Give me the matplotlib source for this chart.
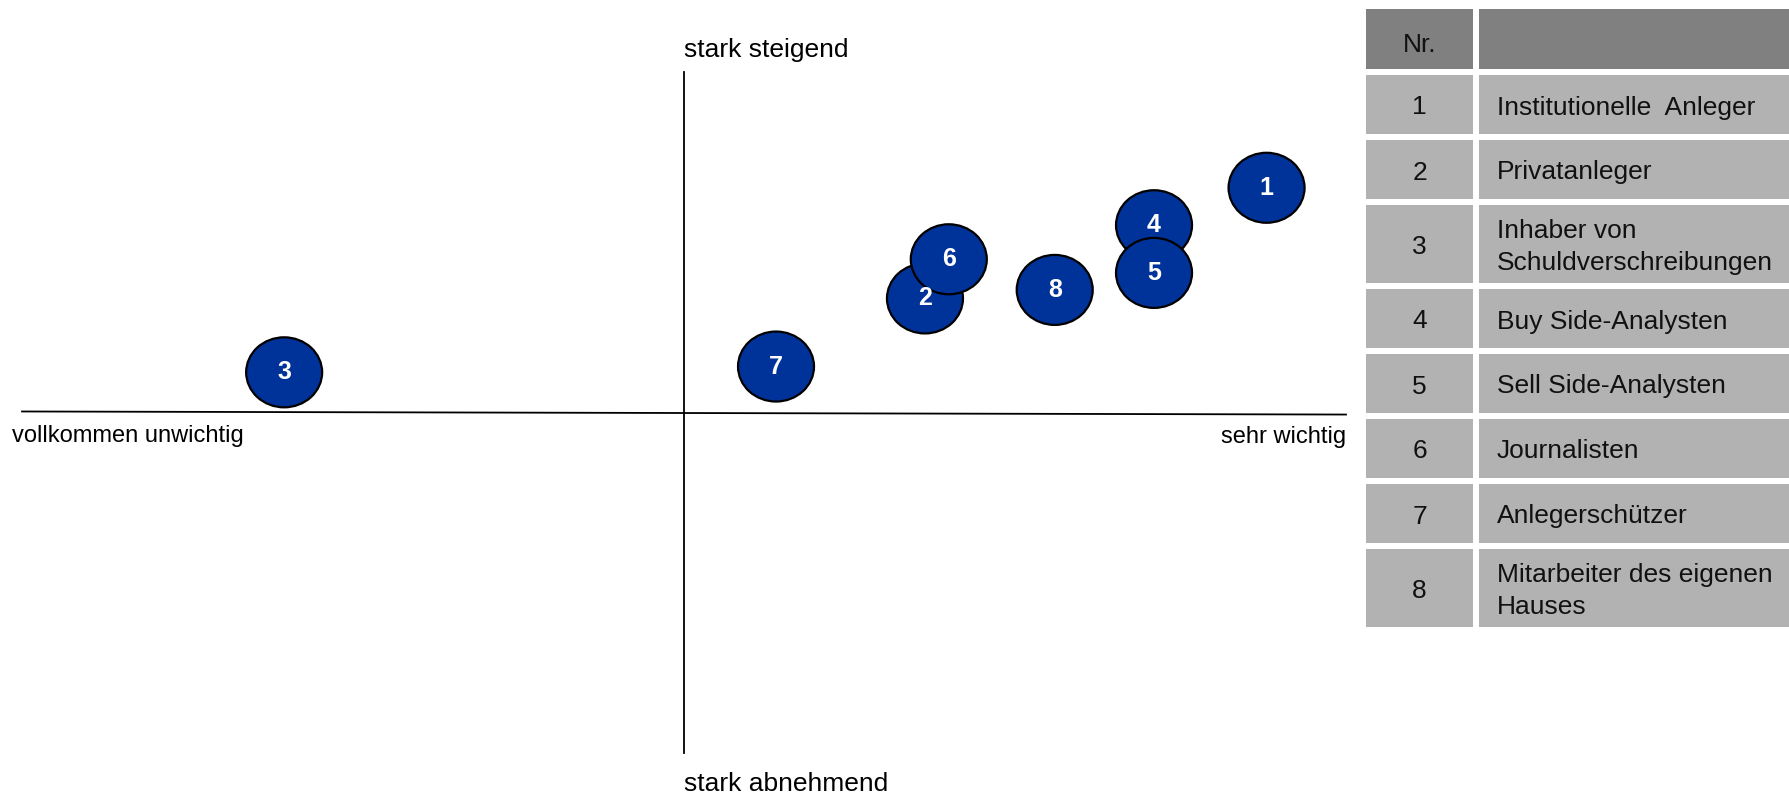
import matplotlib
matplotlib.use("Agg")
import matplotlib.pyplot as plt
from matplotlib.patches import Ellipse, Rectangle

plt.rcParams['font.family'] = ['Liberation Sans', 'DejaVu Sans']

# Daten: Wichtigkeit (x) und Entwicklung (y), Skala -1..1
nr      = [1, 2, 3, 4, 5, 6, 7, 8]
wichtig = [0.88, 0.364, -0.604, 0.71, 0.71, 0.40, 0.139, 0.56]
trend   = [0.66, 0.335, 0.118, 0.55, 0.41, 0.45, 0.135, 0.36]
gruppen = ["Institutionelle  Anleger", "Privatanleger",
           "Inhaber von\nSchuldverschreibungen", "Buy Side-Analysten",
           "Sell Side-Analysten", "Journalisten", "Anlegerschützer",
           "Mitarbeiter des eigenen\nHauses"]

W, H = 1789, 794
fig = plt.figure(figsize=(W / 100, H / 100), dpi=100)

# ── Portfolio-Kreuz ──
x0, x1, y0, y1 = 22, 1346, 72, 753          # pixel extent of the cross
ax = fig.add_axes([x0 / W, 1 - y1 / H, (x1 - x0) / W, (y1 - y0) / H])
ax.set_xlim(-1, 1); ax.set_ylim(-1, 1)
ax.axis("off")
ax.plot([-1, 1], [0.003, -0.006], color="k", lw=1.3, clip_on=False)
ax.plot([0.0, 0.0], [-1, 1], color="k", lw=1.3, clip_on=False)

ew = 76 / ((x1 - x0) / 2)   # ellipse size in data units
eh = 70 / ((y1 - y0) / 2)
# 2 unter 6, 4 unter 5 -> Reihenfolge der Zeichnung
order = [0, 2, 6, 7, 1, 5, 3, 4]
for i in order:
    ax.add_patch(Ellipse((wichtig[i], trend[i]), ew, eh, fc="#003399",
                         ec="k", lw=1.6, zorder=3))
    ax.text(wichtig[i], trend[i], str(nr[i]), color="white", fontsize=18,
            fontweight="bold", ha="center", va="center", zorder=4)

ax.text(0.0, 1.0 + 15 / 340, "stark steigend", fontsize=19, ha="left",
        va="baseline", clip_on=False)
ax.text(0.0, -1.0 - 38 / 340, "stark abnehmend", fontsize=19, ha="left",
        va="baseline", clip_on=False)
ax.text(-1.0 - 10 / 662, -29 / 340, "vollkommen unwichtig", fontsize=17,
        ha="left", va="baseline", clip_on=False)
ax.text(1.0, -30 / 340, "sehr wichtig", fontsize=17, ha="right",
        va="baseline", clip_on=False)

# ── Legende als Tabelle ──
tx = fig.add_axes([0, 0, 1, 1])
tx.set_xlim(0, W); tx.set_ylim(H, 0)
tx.axis("off")
c1l, c1r, c2l, c2r = 1366, 1473, 1479, 1789
gap, top = 6, 9
rows = [("Nr.", "")] + [(str(n), g) for n, g in zip(nr, gruppen)]
y = top
for k, (a, b) in enumerate(rows):
    h = 78 if "\n" in b else (60 if k == 0 else 59)
    fc = "#808080" if k == 0 else "#b2b2b2"
    tx.add_patch(Rectangle((c1l, y), c1r - c1l, h, fc=fc, ec="none"))
    tx.add_patch(Rectangle((c2l, y), c2r - c2l, h, fc=fc, ec="none"))
    dy = 6 if k == 0 else 3
    tx.text((c1l + c1r) / 2, y + h / 2 + dy, a, fontsize=19, ha="center",
            va="center", color="#111111")
    tx.text(c2l + 18, y + h / 2 + 3, b, fontsize=19, ha="left", va="center",
            color="#111111", linespacing=1.38)
    y += h + gap

fig.savefig("out.png", dpi=100)
